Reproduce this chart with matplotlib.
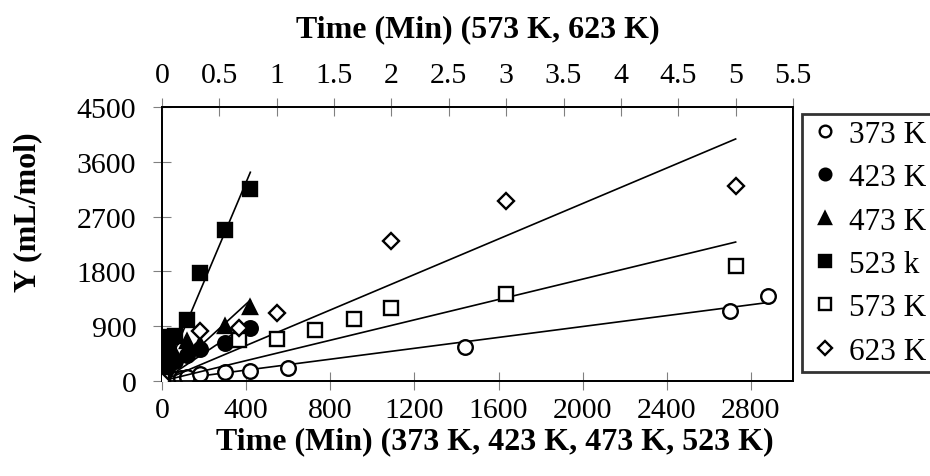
import numpy as np
import matplotlib
matplotlib.use("Agg")
import matplotlib.pyplot as plt

plt.rcParams['font.family'] = ['Liberation Serif', 'DejaVu Serif']

# bottom axis series (time in min)
t373 = [0, 30, 60, 90, 120, 180, 300, 420, 600, 1440, 2700, 2880]
y373 = [0, 25, 40, 55, 66, 115, 148, 164, 213, 558, 1150, 1396]
t423 = [0, 15, 30, 60, 120, 180, 300, 420]
y423 = [0, 160, 250, 330, 430, 520, 630, 870]
t473 = [0, 15, 30, 60, 120, 180, 300, 420]
y473 = [0, 230, 350, 450, 650, 600, 900, 1210]
t523 = [0, 10, 20, 30, 45, 60, 120, 180, 300, 420]
y523 = [0, 250, 450, 600, 720, 740, 1000, 1780, 2480, 3150]

# top axis series
t573 = [0, 0.67, 1, 1.33, 1.67, 2, 3, 5]
y573 = [0, 673, 690, 838, 1018, 1199, 1429, 1889]
t623 = [0, 0.33, 0.67, 1, 2, 3, 5]
y623 = [0, 826, 870, 1117, 2299, 2956, 3202]

bottom_ticks = [0, 400, 800, 1200, 1600, 2000, 2400, 2800]
top_ticks = [0, 0.5, 1, 1.5, 2, 2.5, 3, 3.5, 4, 4.5, 5, 5.5]
y_ticks = [0, 900, 1800, 2700, 3600, 4500]


def fit_line(ax, t, y):
    t = np.array(t, float)
    y = np.array(y, float)
    k = np.sum(t * y) / np.sum(t * t)  # trend line through origin
    xs = np.array([0, t.max()])
    ax.plot(xs, k * xs, color='black', lw=1.2, zorder=2)


fig = plt.figure(figsize=(9.3, 4.77), dpi=100)
ax = fig.add_axes([162 / 930, 95 / 477, 631 / 930, 274 / 477])
ax2 = ax.twiny()

ms = 10.5
mew = 1.7
h = []
h += ax.plot(t373, y373, 'o', ms=ms, mfc='white', mec='black', mew=mew, label='373 K', zorder=3)
h += ax.plot(t423, y423, 'o', ms=ms, mfc='black', mec='black', mew=mew, label='423 K', zorder=3)
h += ax.plot(t473, y473, '^', ms=ms, mfc='black', mec='black', mew=mew, label='473 K', zorder=3)
h += ax.plot(t523, y523, 's', ms=ms, mfc='black', mec='black', mew=mew, label='523 k', zorder=3)
h += ax2.plot(t573, y573, 's', ms=ms, mfc='white', mec='black', mew=mew, label='573 K', zorder=3)
h += ax2.plot(t623, y623, 'D', ms=8.5, mfc='white', mec='black', mew=mew, label='623 K', zorder=3)

for t, y in [(t373, y373), (t423, y423), (t473, y473), (t523, y523)]:
    fit_line(ax, t, y)
for t, y in [(t573, y573), (t623, y623)]:
    fit_line(ax2, t, y)

ax.set_xlim(0, 3000)
ax.set_ylim(0, 4500)
ax2.set_xlim(0, 5.5)
ax.set_xticks(bottom_ticks)
ax.set_yticks(y_ticks)
ax2.set_xticks(top_ticks)
ax2.set_xticklabels(['0', '0.5', '1', '1.5', '2', '2.5', '3', '3.5', '4', '4.5', '5', '5.5'])

fs = 21.5
ax.tick_params(axis='x', direction='inout', length=13, color='#808080', labelsize=fs, pad=5)
ax.tick_params(axis='y', direction='inout', length=13, color='#808080', labelsize=fs, pad=12)
ax2.tick_params(axis='x', direction='inout', length=13, color='#808080', labelsize=fs, pad=7)

for a in (ax, ax2):
    for s in a.spines.values():
        s.set_linewidth(1.3)
        s.set_color('black')

ax.set_xlabel('Time (Min) (373 K, 423 K, 473 K, 523 K)', fontsize=23, fontweight='bold')
ax.xaxis.set_label_coords(0.528, -0.165)
ax2.set_xlabel('Time (Min) (573 K, 623 K)', fontsize=23, fontweight='bold', labelpad=19)
ax.set_ylabel('Y (mL/mol)', fontsize=23, fontweight='bold')
ax.yaxis.set_label_coords(-0.19, 0.62)

leg = fig.legend(handles=h, loc='lower left', bbox_to_anchor=(802 / 930, 104 / 477),
                 fontsize=22.5, frameon=True, fancybox=False, markerscale=0.8,
                 handlelength=1.1, handletextpad=0.2, labelspacing=0.46,
                 borderpad=0.2, borderaxespad=0)
leg.get_frame().set_edgecolor('black')
leg.get_frame().set_linewidth(2)

fig.savefig('out.png', dpi=100)
